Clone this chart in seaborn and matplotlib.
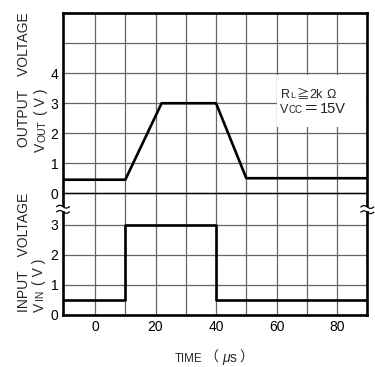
import matplotlib
matplotlib.use("Agg")
import matplotlib.pyplot as plt
import seaborn as sns
import pandas as pd
import numpy as np
from matplotlib.patches import Rectangle
from matplotlib.lines import Line2D

# ---------------- data ----------------
x_min, x_max = -10.6, 90
time_out = [-10.6, 10, 22, 40, 50, 90]
v_out = [0.45, 0.45, 3.0, 3.0, 0.5, 0.5]
time_in = [-10.6, 10, 10, 40, 40, 90]
v_in = [0.5, 0.5, 3.0, 3.0, 0.5, 0.5]
x_ticks = [0, 20, 40, 60, 80]
x_minor = [10, 30, 50, 70]
out_ticks = [0, 1, 2, 3, 4]
out_minor = [5]
in_ticks = [0, 1, 2, 3]

W, H = 375, 367
sns.set_style("white")
FAM = ["Liberation Sans", "Noto Sans CJK JP", "DejaVu Sans"]
plt.rcParams["font.family"] = FAM

fig = plt.figure(figsize=(W / 100, H / 100), dpi=100)

L, R, T, B, BRK = 63, 367.3, 12.7, 315, 210
def fx(px): return px / W
def fy(py): return 1 - py / H

ax_top = fig.add_axes([fx(L), fy(BRK), fx(R) - fx(L), fy(T) - fy(BRK)])
ax_bot = fig.add_axes([fx(L), fy(B), fx(R) - fx(L), fy(BRK) - fy(B)])

df_out = pd.DataFrame({"t": time_out, "v": v_out})
df_in = pd.DataFrame({"t": time_in, "v": v_in})

GRID = "#666666"
for ax in (ax_top, ax_bot):
    ax.set_xlim(x_min, x_max)
    ax.set_xticks(x_ticks)
    ax.set_xticks(x_minor, minor=True)
    ax.set_axisbelow(True)
    ax.grid(True, which="both", color=GRID, lw=0.9)
    ax.tick_params(which="both", length=0, labelsize=10, pad=3.3, colors="black")
    for s in ax.spines.values():
        s.set_linewidth(1.9)
        s.set_color("black")

ax_top.set_ylim(-0.56, 6.02)
ax_top.set_yticks(out_ticks)
ax_top.set_yticks(out_minor, minor=True)
ax_top.spines["bottom"].set_visible(False)
ax_top.tick_params(axis="x", labelbottom=False)
ax_top.axhline(0, color="black", lw=1.0, zorder=1.2)

ax_bot.set_ylim(0, 3.5)
ax_bot.set_yticks(in_ticks)
ax_bot.spines["top"].set_visible(False)
ax_bot.tick_params(axis="x", pad=3.6)

sns.lineplot(data=df_out, x="t", y="v", ax=ax_top, color="black", lw=1.9,
             sort=False, estimator=None, zorder=3)
sns.lineplot(data=df_in, x="t", y="v", ax=ax_bot, color="black", lw=1.9,
             sort=False, estimator=None, zorder=3)
for ax in (ax_top, ax_bot):
    ax.set_xlabel("")
    ax.set_ylabel("")

# white box behind the condition text
ax_top.add_patch(Rectangle((60.3, 2.22), 29.4, 1.72, facecolor="white",
                           edgecolor="none", zorder=1))

renderer = fig.canvas.get_renderer()

def seq_text(x_px, y_px, pieces, rotation=0):
    pos = x_px if rotation == 0 else y_px
    for s, size, gap, style in pieces:
        if rotation == 0:
            pos += gap
            t = fig.text(fx(pos), fy(y_px), s, fontsize=size, ha="left",
                         va="baseline", family=FAM, style=style)
            pos += t.get_window_extent(renderer).width
        else:
            pos -= gap
            t = fig.text(fx(x_px), fy(pos), s, fontsize=size, rotation=90,
                         rotation_mode="anchor", ha="left", va="baseline",
                         family=FAM, style=style)
            pos -= t.get_window_extent(renderer).height

# y-axis titles
seq_text(28.5, 147, [("OUTPUT\u3000VOLTAGE", 10, 0, "normal")], rotation=90)
seq_text(45, 152, [("V", 10, 0, "normal"), ("OUT", 7.5, 1.0, "normal"),
                   ("( V )", 10, 5, "normal")], rotation=90)
seq_text(28.5, 311.7, [("INPUT\u3000VOLTAGE", 10, 0, "normal")], rotation=90)
seq_text(43.5, 311.7, [("V", 10, 0, "normal"), ("IN", 7.5, 2.0, "normal"),
                       ("( V )", 10, 5, "normal")], rotation=90)

# x-axis title
seq_text(175, 361.7, [("TIME", 8.3, 0, "normal"), ("\uff08", 10, 1.5, "normal"),
                      ("\u03bc", 10, 4, "italic"), ("s", 10, 0.5, "normal"),
                      ("\uff09", 10, 2, "normal")])

# conditions
seq_text(281, 98.3, [("R", 9, 0, "normal"), ("L", 6.5, 0.3, "normal"),
                     ("\u2267", 9, 0.8, "normal"), ("2k", 9, 1.2, "normal"),
                     ("\u03a9", 9, 3, "normal")])
seq_text(280, 113.3, [("V", 9, 0, "normal"), ("CC", 7, 0.5, "normal"),
                      ("\uff1d", 10.5, 1.0, "normal"), ("15V", 10.5, 1.5, "normal")])

# axis break marks
for xc, yc in ((63, 209.3), (367.3, 209.6)):
    fig.add_artist(Rectangle((fx(xc - 2.5), fy(211.3)), 5 / W, 4 / H,
                             transform=fig.transFigure, facecolor="white",
                             edgecolor="none", zorder=5))
    xs = np.linspace(xc - 6.5, xc + 6.5, 30)
    for dy in (-2.6, 2.6):
        ys = yc + dy - 1.4 * np.sin(2 * np.pi * (xs - xs[0]) / 13.0)
        fig.add_artist(Line2D(fx(xs), fy(ys), transform=fig.transFigure,
                              color="black", lw=0.9, zorder=6))

fig.savefig("out.png", dpi=100)
